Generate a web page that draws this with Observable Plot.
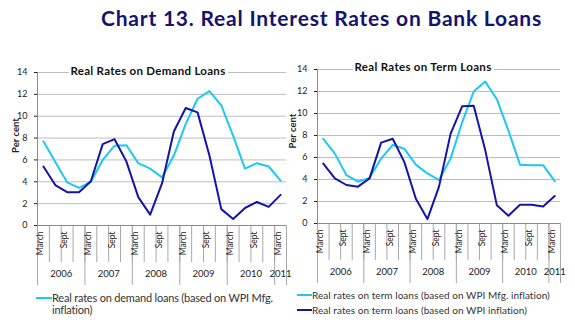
<!DOCTYPE html>
<html><head><meta charset="utf-8">
<script src="https://cdn.jsdelivr.net/npm/d3@7"></script>
<script src="https://cdn.jsdelivr.net/npm/@observablehq/plot@0.6"></script>
<style>
body{margin:0;background:#fff;font-family:Lato,sans-serif}
#wrap{position:relative;width:575px;height:330px;overflow:hidden;background:#fff}
.abs{position:absolute;white-space:nowrap}
.title{font-weight:bold;font-size:21px;line-height:24px;color:#14146e}
.ptitle{font-weight:bold;font-size:11.5px;line-height:13px;color:#111;background:#fff;padding:0 2px}
.leg{font-size:10px;line-height:11px;color:#333}
.sw{position:absolute;height:2px}
</style></head><body><div id="wrap">
<div class="abs title" style="left:101px;top:6px"><span id="tt">Chart 13. Real Interest Rates on Bank Loans</span></div>
<div id="left" class="abs" style="left:0;top:60px"></div>
<div id="right" class="abs" style="left:280px;top:60px"></div>
<div class="abs ptitle" id="t1" style="top:64px"><span>Real Rates on Demand Loans</span></div>
<div class="abs ptitle" id="t2" style="top:60px"><span>Real Rates on Term Loans</span></div>
<div class="sw" style="left:36px;top:297px;width:16px;background:#1ec8f0"></div>
<div class="abs leg" id="l1" style="left:52px;top:292px;font-size:11px;line-height:11.5px"><span>Real rates on demand loans (based on WPI Mfg.</span><br>inflation)</div>
<div class="sw" style="left:297px;top:294px;width:15px;background:#1ec8f0"></div>
<div class="abs leg" id="l2" style="left:312px;top:289.5px"><span>Real rates on term loans (based on WPI Mfg. inflation)</span></div>
<div class="sw" style="left:297px;top:309px;width:15px;background:#1414a8"></div>
<div class="abs leg" id="l3" style="left:312px;top:304.5px"><span>Real rates on term loans (based on WPI inflation)</span></div>
</div>
<script>
const years = ["2006","2007","2008","2009","2010","2011"];
const quarterLabels = ["March","","Sept","", "March","","Sept","", "March","","Sept","", "March","","Sept","", "March","","Sept","", "March"];
const quarterYears = ["2006","2006","2006","2006","2007","2007","2007","2007","2008","2008","2008","2008","2009","2009","2009","2009","2010","2010","2010","2010","2011"];
const demandMfg = [7.7, 5.8, 3.95, 3.45, 4.0, 6.0, 7.3, 7.35, 5.7, 5.2, 4.4, 6.4, 9.3, 11.6, 12.3, 11.0, 8.2, 5.2, 5.7, 5.4, 4.1];
const demandWpi = [5.4, 3.7, 3.05, 3.05, 4.05, 7.45, 7.9, 5.85, 2.6, 1.0, 3.85, 8.6, 10.75, 10.35, 6.4, 1.5, 0.6, 1.6, 2.15, 1.7, 2.8];
const termMfg = [7.7, 6.35, 4.4, 3.8, 4.15, 5.9, 7.15, 6.8, 5.35, 4.55, 3.95, 5.9, 9.2, 12.0, 12.9, 11.3, 8.45, 5.35, 5.3, 5.3, 3.85];
const termWpi = [5.45, 4.1, 3.5, 3.35, 4.1, 7.35, 7.7, 5.6, 2.25, 0.4, 3.35, 8.15, 10.65, 10.7, 6.65, 1.65, 0.7, 1.7, 1.7, 1.55, 2.5];
const yTicks = [0, 2, 4, 6, 8, 10, 12, 14];
const light = "#1ec8f0", dark = "#1414a8";

const n = quarterLabels.length;
const idx = d3.range(n);
const yearCenters = years.map(y => ({year: y, x: d3.mean(idx.filter(i => quarterYears[i] === y))}));
const yearBounds = idx.filter(i => i === 0 || quarterYears[i] !== quarterYears[i-1]).map(i => i - 0.5).concat([n - 0.5]);
const catBounds = d3.range(n + 1).map(k => k - 0.5);

function panel({mfg, wpi, width, marginLeft, marginRight, marginTop, marginBottom, labelDx, labelDy}) {
  const height = 230;
  const innerH = height - marginTop - marginBottom;
  const rows = idx.map(i => ({i, mfg: mfg[i], wpi: wpi[i], q: quarterLabels[i]}));
  return Plot.plot({
    width, height, marginLeft, marginRight, marginTop, marginBottom,
    style: {fontFamily: "Lato, sans-serif", fontSize: "9px", color: "#222", background: "transparent", overflow: "visible"},
    x: {domain: [-0.5, n - 0.5], axis: null},
    y: {domain: [0, 14], ticks: yTicks, tickSize: 3, tickPadding: 7, label: null},
    marks: [
      Plot.ruleY(yTicks.slice(1), {stroke: "#bdbdbd"}),
      Plot.ruleX(catBounds, {x: d => d, insetTop: innerH, insetBottom: -37, stroke: "#a8a8a8"}),
      Plot.ruleX(yearBounds, {x: d => d, insetTop: innerH, insetBottom: -60, stroke: "#a8a8a8"}),
      Plot.ruleX([-0.5], {x: d => d, stroke: "#8a8a8a"}),
      Plot.ruleY([0], {stroke: "#8a8a8a"}),
      Plot.text(rows.filter(d => d.q), {x: "i", text: "q", frameAnchor: "bottom", dy: 6, rotate: -90, textAnchor: "end", fontSize: 8.5}),
      Plot.text(yearCenters, {x: "x", text: "year", frameAnchor: "bottom", dy: 51, fontSize: 9.5}),
      Plot.text(["Per cent"], {frameAnchor: "left", dx: labelDx, dy: labelDy, rotate: -90, fontWeight: "bold", fontSize: 9.5}),
      Plot.line(rows, {x: "i", y: "mfg", stroke: light, strokeWidth: 2}),
      Plot.line(rows, {x: "i", y: "wpi", stroke: dark, strokeWidth: 2})
    ]
  });
}

document.getElementById("left").append(panel({mfg: demandMfg, wpi: demandWpi, width: 290, marginLeft: 37, marginRight: 4, marginTop: 12, marginBottom: 65, labelDx: -22, labelDy: 4}));
document.getElementById("right").append(panel({mfg: termMfg, wpi: termWpi, width: 295, marginLeft: 37, marginRight: 15, marginTop: 9, marginBottom: 67, labelDx: -25, labelDy: 2}));

// stretch text to the widths measured on the reference
function fit(el, span, target) {
  const w = span.getBoundingClientRect().width;
  const chars = span.textContent.length;
  el.style.letterSpacing = ((target - w) / chars) + "px";
}
fit(document.querySelector(".title"), document.getElementById("tt"), 441);
for (const [id, w] of [["t1", 155], ["t2", 137], ["l1", 221], ["l2", 238]]) {
  const el = document.getElementById(id);
  fit(el, el.querySelector("span"), w);
}
document.getElementById("l3").style.letterSpacing = document.getElementById("l2").style.letterSpacing;

function center(id, cx) {
  const el = document.getElementById(id);
  el.style.left = (cx - el.offsetWidth / 2) + "px";
}
center("t1", 148);
center("t2", 423);
</script>
</body></html>
